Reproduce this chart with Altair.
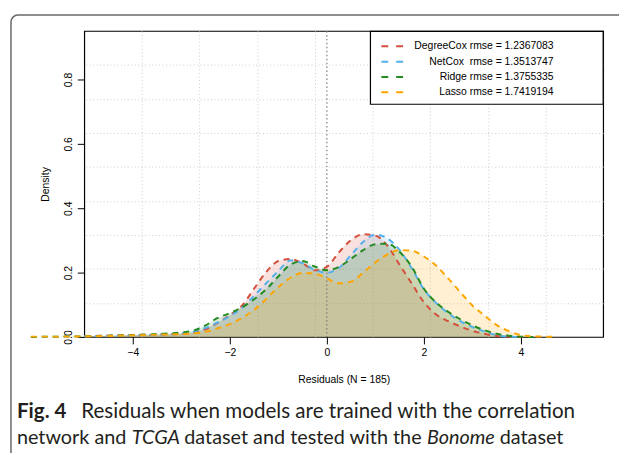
import altair as alt
import pandas as pd

models = ["DegreeCox", "NetCox", "Ridge", "Lasso"]
legend_labels = ["DegreeCox rmse = 1.2367083", "NetCox\u00a0 rmse = 1.3513747",
                 "Ridge rmse = 1.3755335", "Lasso rmse = 1.7419194"]
colors = ["#d4503e", "#56b0ea", "#238b22", "#ffa500"]

x = [-6.1, -5.5, -5.0, -4.5, -4.0, -3.5, -3.0, -2.75, -2.5, -2.25, -2.0, -1.75, -1.5, -1.25,
     -1.0, -0.75, -0.5, -0.25, 0.0, 0.25, 0.5, 0.75, 1.0, 1.25, 1.5, 1.75, 2.0, 2.25, 2.5,
     2.75, 3.0, 3.25, 3.5, 3.75, 4.0, 4.25, 4.5, 4.75]
degreecox = [None, None, 0.002, 0.004, 0.005, 0.007, 0.010, 0.014, 0.024, 0.044, 0.068, 0.097,
             0.150, 0.202, 0.236, 0.242, 0.229, 0.207, 0.218, 0.263, 0.301, 0.319, 0.315, 0.283,
             0.224, 0.166, 0.108, 0.070, 0.049, 0.033, 0.019, 0.010, 0.003, 0.001, 0.0,
             None, None, None]
netcox = [None, None, 0.002, 0.003, 0.005, 0.007, 0.011, 0.016, 0.028, 0.045, 0.065, 0.090,
          0.128, 0.167, 0.205, 0.238, 0.229, 0.209, 0.199, 0.215, 0.255, 0.296, 0.318, 0.306,
          0.270, 0.213, 0.148, 0.106, 0.074, 0.049, 0.031, 0.017, 0.006, 0.001, 0.0,
          None, None, None]
ridge = [0.0, 0.001, 0.002, 0.004, 0.006, 0.009, 0.014, 0.020, 0.036, 0.059, 0.074, 0.092,
         0.117, 0.148, 0.188, 0.225, 0.236, 0.219, 0.207, 0.218, 0.243, 0.270, 0.288, 0.290,
         0.264, 0.218, 0.150, 0.107, 0.078, 0.055, 0.036, 0.021, 0.010, 0.004, 0.001, 0.0,
         None, None]
lasso = [0.001, 0.001, 0.002, 0.003, 0.005, 0.007, 0.009, 0.011, 0.016, 0.027, 0.040, 0.059,
         0.084, 0.118, 0.155, 0.184, 0.199, 0.197, 0.182, 0.167, 0.172, 0.200, 0.232, 0.257,
         0.270, 0.268, 0.250, 0.222, 0.182, 0.139, 0.098, 0.066, 0.037, 0.018, 0.006, 0.002,
         0.001, 0.0]

x_ticks = [-4, -2, 0, 2, 4]
y_ticks = [0.0, 0.2, 0.4, 0.6, 0.8]
x_domain = [-5.0, 5.694]
y_domain = [0.0, 0.951]

caption_line1 = [("Fig. 4", "bold", "normal"),
                 ("Residuals when models are trained with the correlation", "normal", "normal")]
caption_line2 = [("network and", "normal", "normal"), ("TCGA", "normal", "italic"),
                 ("dataset and tested with the", "normal", "normal"), ("Bonome", "normal", "italic"),
                 ("dataset", "normal", "normal")]

rows = []
for m, ys in zip(models, [degreecox, netcox, ridge, lasso]):
    for xi, yi in zip(x, ys):
        if yi is not None:
            rows.append({"model": m, "x": xi, "density": yi})
df = pd.DataFrame(rows)

W, H = 524, 309
nx = 9
gx = [x_domain[0] + (x_domain[1] - x_domain[0]) * k / nx for k in range(1, nx)]
gy = [y_domain[0] + (y_domain[1] - y_domain[0]) * k / nx for k in range(1, nx)]

color = alt.Color("model:N", scale=alt.Scale(domain=models, range=colors), legend=None)
xs = alt.Scale(domain=x_domain, nice=False, zero=False)
ys_ = alt.Scale(domain=y_domain, nice=False)

areas = alt.Chart(df).mark_area(fillOpacity=0.17, interpolate="monotone").encode(
    x=alt.X("x:Q", scale=xs, axis=alt.Axis(values=x_ticks, grid=False, domain=False, tickSize=7,
                                           tickColor="black", labelPadding=4,
                                           title="Residuals (N = 185)", titlePadding=16)),
    y=alt.Y("density:Q", stack=None, scale=ys_,
            axis=alt.Axis(values=y_ticks, format=".1f", labelAngle=270, labelAlign="center",
                          labelBaseline="bottom", grid=False, domain=False, tickSize=7,
                          tickColor="black", labelPadding=4, title="Density", titlePadding=13)),
    color=color,
)

lines = alt.Chart(df).mark_line(strokeDash=[6, 5], strokeWidth=2, interpolate="monotone").encode(
    x=alt.X("x:Q", scale=xs, axis=alt.Axis(orient="top", values=gx, grid=True, labels=False,
                                           ticks=False, domain=False, title="",
                                           gridColor="#cccccc", gridDash=[1, 2.5], gridWidth=1)),
    y=alt.Y("density:Q", scale=ys_, axis=alt.Axis(orient="right", values=gy, grid=True,
                                                  labels=False, ticks=False, domain=False, title="",
                                                  gridColor="#cccccc", gridDash=[1, 2.5],
                                                  gridWidth=1)),
    color=color,
)

one = pd.DataFrame({"t": [""]})
vline = alt.Chart(one).mark_rule(color="#7a7a7a", strokeDash=[1.5, 2.5], strokeWidth=1.2).encode(
    x=alt.X(datum=0, scale=xs, axis=None))


def txt(s, px, py, **kw):
    return alt.Chart(pd.DataFrame({"t": [s]})).mark_text(**kw).encode(
        x=alt.value(px), y=alt.value(py), text="t:N")


legend_box = alt.Chart(one).mark_rect(fill="white", stroke="black", strokeWidth=1.2).encode(
    x=alt.value(289), x2=alt.value(524), y=alt.value(0.5), y2=alt.value(74))
legend_layers = [legend_box]
row_y = [15.5, 31, 46.5, 62]
for lab, c, yy in zip(legend_labels, colors, row_y):
    legend_layers.append(
        alt.Chart(one).mark_rule(color=c, strokeDash=[7, 8], strokeWidth=2).encode(
            x=alt.value(300), x2=alt.value(322), y=alt.value(yy)))
    legend_layers.append(txt(lab, 474, yy, align="right", baseline="middle",
                             font="Liberation Sans", fontSize=10.5, color="black"))

frame = alt.Chart(one).mark_rect(filled=False, stroke="#6a6a6a", strokeWidth=1.5,
                                 cornerRadius=7).encode(
    x=alt.value(-74), y=alt.value(-16), x2=alt.value(700), y2=alt.value(600))

cap_font = dict(align="left", baseline="alphabetic", font="Lato", color="#231f20")
cap_layers = []
cap_x1 = [-68, -3]
for (s, w, st), px in zip(caption_line1, cap_x1):
    cap_layers.append(txt(s, px, 391, fontSize=20.8, fontWeight=w, fontStyle=st, **cap_font))
cap_x2 = [-68, 48, 101, 346, 419.5]
for (s, w, st), px in zip(caption_line2, cap_x2):
    cap_layers.append(txt(s, px, 417, fontSize=20, fontWeight=w, fontStyle=st, **cap_font))

chart = alt.layer(areas, vline, lines, *legend_layers, frame, *cap_layers).resolve_axis(
    x="independent", y="independent"
).properties(
    width=W, height=H,
    padding={"left": 77, "top": 21, "right": 16, "bottom": 115},
    autosize=alt.AutoSizeParams(type="none"),
).configure_view(stroke="black", strokeWidth=1.2).configure_axis(
    labelFont="Liberation Sans", labelFontSize=10.5, labelColor="black",
    titleFont="Liberation Sans", titleFontSize=10.5, titleFontWeight="normal", titleColor="black",
    tickWidth=1,
)

chart.save("out.html", embed_options={"renderer": "svg", "actions": False})
